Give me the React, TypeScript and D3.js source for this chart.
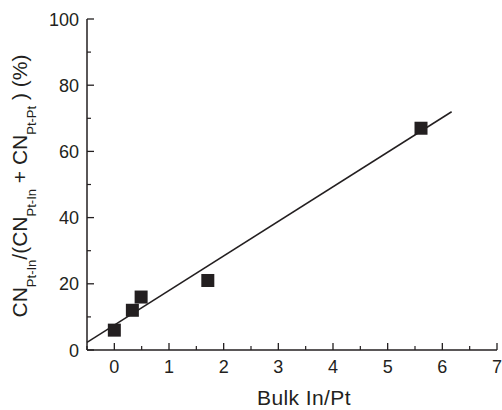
import React from "react";
import * as d3 from "d3";

// ---- data ----
const bulkRatio = [0, 0.33, 0.49, 1.71, 5.61];
const cnFraction = [6, 12, 16, 21, 67];
const fitSlope = 10.45;
const fitIntercept = 7.5;
const fitRange = [-0.5, 6.17];
const xTicks = [0, 1, 2, 3, 4, 5, 6, 7];
const xMinorTicks = [-0.5, 0.5, 1.5, 2.5, 3.5, 4.5, 5.5, 6.5];
const yTicks = [0, 20, 40, 60, 80, 100];
const yMinorTicks = [10, 30, 50, 70, 90];

const W = 502;
const H = 410;
const FONT = "'Liberation Sans', Arial, Helvetica, sans-serif";
const INK = "#231f20";

export default function App() {
  const x = d3.scaleLinear().domain([-0.5, 7]).range([87, 497]);
  const y = d3.scaleLinear().domain([0, 100]).range([350, 19]);
  const x0 = x(-0.5);
  const y0 = y(0);
  const major = 7;
  const minor = 4;
  const sq = 13;

  const fitLine = d3
    .line<number>()
    .x((d) => x(d))
    .y((d) => y(fitIntercept + fitSlope * d));

  const titleCx = 27;
  const titleCy = 186;

  return (
    <svg
      width={W}
      height={H}
      style={{ position: "absolute", left: 0, top: 0 }}
      fontFamily={FONT}
    >
      <rect width={W} height={H} fill="#fff" />
      {/* fit line */}
      <path d={fitLine(fitRange) || ""} stroke={INK} strokeWidth={1.5} fill="none" />
      {/* markers */}
      {bulkRatio.map((v, i) => (
        <rect
          key={i}
          x={x(v) - sq / 2}
          y={y(cnFraction[i]) - sq / 2}
          width={sq}
          height={sq}
          fill={INK}
        />
      ))}
      {/* axes */}
      <line x1={x0} x2={x(7)} y1={y0} y2={y0} stroke={INK} strokeWidth={1.5} />
      <line x1={x0} x2={x0} y1={y0} y2={y(100)} stroke={INK} strokeWidth={1.5} />
      {xTicks.map((t) => (
        <g key={"xt" + t}>
          <line x1={x(t)} x2={x(t)} y1={y0} y2={y0 - major} stroke={INK} strokeWidth={1.3} />
          <text x={x(t)} y={373} textAnchor="middle" fontSize={18} fill={INK}>
            {t}
          </text>
        </g>
      ))}
      {xMinorTicks.map((t) => (
        <line key={"xm" + t} x1={x(t)} x2={x(t)} y1={y0} y2={y0 - minor} stroke={INK} strokeWidth={1.2} />
      ))}
      {yTicks.map((t) => (
        <g key={"yt" + t}>
          <line x1={x0} x2={x0 + major} y1={y(t)} y2={y(t)} stroke={INK} strokeWidth={1.3} />
          <text x={79} y={y(t) + 6.5} textAnchor="end" fontSize={18} fill={INK}>
            {t}
          </text>
        </g>
      ))}
      {yMinorTicks.map((t) => (
        <line key={"ym" + t} x1={x0} x2={x0 + minor} y1={y(t)} y2={y(t)} stroke={INK} strokeWidth={1.2} />
      ))}
      {/* x title */}
      <text x={304} y={405} textAnchor="middle" fontSize={21} fill={INK} letterSpacing={0.4}>
        Bulk In/Pt
      </text>
      {/* y title */}
      <text
        transform={`translate(${titleCx},${titleCy}) rotate(-90)`}
        textAnchor="middle"
        fontSize={21}
        fill={INK}
      >
        <tspan>CN</tspan>
        <tspan fontSize={13} dy={9}>Pt-In</tspan>
        <tspan dy={-9}>/(CN</tspan>
        <tspan fontSize={13} dy={9}>Pt-In</tspan>
        <tspan dy={-9}> + CN</tspan>
        <tspan fontSize={13} dy={9}>Pt-Pt</tspan>
        <tspan dy={-9}> ) (%)</tspan>
      </text>
    </svg>
  );
}
